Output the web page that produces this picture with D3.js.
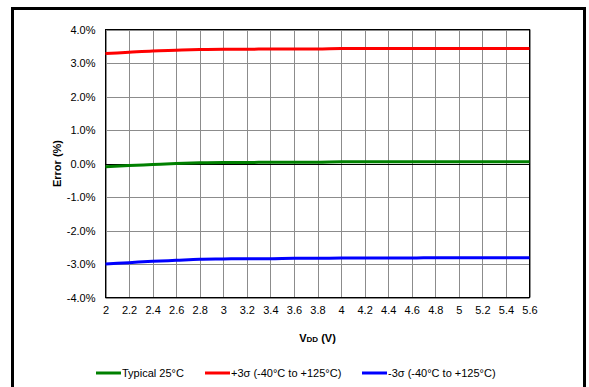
<!DOCTYPE html>
<html><head><meta charset="utf-8">
<script src="https://cdn.jsdelivr.net/npm/d3@7"></script>
<style>body{margin:0;background:#fff}svg{display:block;font-family:"Liberation Sans",Arial,sans-serif}</style>
</head><body>
<svg id="c" width="589" height="387"></svg>
<script>
const vdd = [2,2.2,2.4,2.6,2.8,3,3.2,3.4,3.6,3.8,4,4.2,4.4,4.6,4.8,5,5.2,5.4,5.6];
const typical = [-0.10,-0.06,-0.03,0.00,0.02,0.03,0.03,0.04,0.04,0.04,0.05,0.05,0.05,0.05,0.05,0.05,0.05,0.05,0.05];
const plus3s = [3.28,3.32,3.36,3.38,3.40,3.41,3.41,3.42,3.42,3.42,3.43,3.43,3.43,3.43,3.43,3.43,3.43,3.43,3.43];
const minus3s = [-3.00,-2.96,-2.92,-2.89,-2.86,-2.85,-2.84,-2.84,-2.83,-2.83,-2.82,-2.82,-2.82,-2.82,-2.81,-2.81,-2.81,-2.81,-2.81];
const xTicks = ["2","2.2","2.4","2.6","2.8","3","3.2","3.4","3.6","3.8","4","4.2","4.4","4.6","4.8","5","5.2","5.4","5.6"];
const yTicks = [-4,-3,-2,-1,0,1,2,3,4];
const series = [
  {name:"Typical 25°C", values: typical, color:"#008000"},
  {name:"+3σ (-40°C to +125°C)", values: plus3s, color:"#ff0000"},
  {name:"-3σ (-40°C to +125°C)", values: minus3s, color:"#0000ff"}
];

const svg = d3.select("#c");
const L=105.5, R=529.5, T=29.5, B=297.5;
const x = d3.scaleLinear().domain([2,5.6]).range([L,R]);
const y = d3.scaleLinear().domain([-4,4]).range([B,T]);

// outer frame
svg.append("rect").attr("x",12.5).attr("y",8.5).attr("width",572).attr("height",395)
  .attr("fill","none").attr("stroke","#000").attr("stroke-width",3);

// grid
const g = svg.append("g");
g.selectAll(".vg").data(xTicks.map(Number)).join("line")
  .attr("x1",d=>Math.round(x(d))+0.5).attr("x2",d=>Math.round(x(d))+0.5).attr("y1",T).attr("y2",B)
  .attr("stroke","#8c8c8c").attr("stroke-width",1);
g.selectAll(".hg").data(yTicks).join("line")
  .attr("y1",d=>Math.round(y(d))+0.5).attr("y2",d=>Math.round(y(d))+0.5).attr("x1",L).attr("x2",R)
  .attr("stroke",d=>d===0?"#000":"#8c8c8c").attr("stroke-width",1);
svg.append("rect").attr("x",L).attr("y",T).attr("width",R-L).attr("height",B-T)
  .attr("fill","none").attr("stroke","#000").attr("stroke-width",1);

// axes labels
const xa = d3.axisBottom(x).tickValues(xTicks.map(Number)).tickFormat((d,i)=>xTicks[i]).tickSize(0).tickPadding(9);
const xg = svg.append("g").attr("transform",`translate(0,${B})`).call(xa);
xg.select(".domain").remove();
xg.selectAll("text").attr("font-size",11).attr("fill","#000").attr("font-family","Liberation Sans, Arial, sans-serif");
const ya = d3.axisLeft(y).tickValues(yTicks).tickFormat(d=>d.toFixed(1)+"%").tickSize(0).tickPadding(10);
const yg = svg.append("g").attr("transform",`translate(${L},0)`).call(ya);
yg.select(".domain").remove();
yg.selectAll("text").attr("font-size",11).attr("fill","#000").attr("font-family","Liberation Sans, Arial, sans-serif");

// lines
const line = d3.line().x((d,i)=>x(vdd[i])).y(d=>y(d)).curve(d3.curveMonotoneX);
svg.selectAll(".ser").data(series).join("path")
  .attr("d",d=>line(d.values)).attr("fill","none").attr("stroke",d=>d.color).attr("stroke-width",3);

// axis titles
svg.append("text").attr("transform",`translate(61,${(T+B)/2}) rotate(-90)`).attr("text-anchor","middle")
  .attr("font-size",11).attr("font-weight","bold").text("Error (%)");
const xt = svg.append("text").attr("x",(L+R)/2).attr("y",342).attr("text-anchor","middle")
  .attr("font-size",11).attr("font-weight","bold");
xt.append("tspan").text("V");
xt.append("tspan").attr("font-size",8).text("DD");
xt.append("tspan").text(" (V)");

// legend
const lx = [96,205,362];
const lg = svg.selectAll(".lg").data(series).join("g").attr("transform",(d,i)=>`translate(${lx[i]},373)`);
lg.append("line").attr("x1",0).attr("x2",25).attr("y1",0).attr("y2",0).attr("stroke",d=>d.color).attr("stroke-width",3);
lg.append("text").attr("x",26).attr("y",4).attr("font-size",11).text(d=>d.name);
</script>
</body></html>
